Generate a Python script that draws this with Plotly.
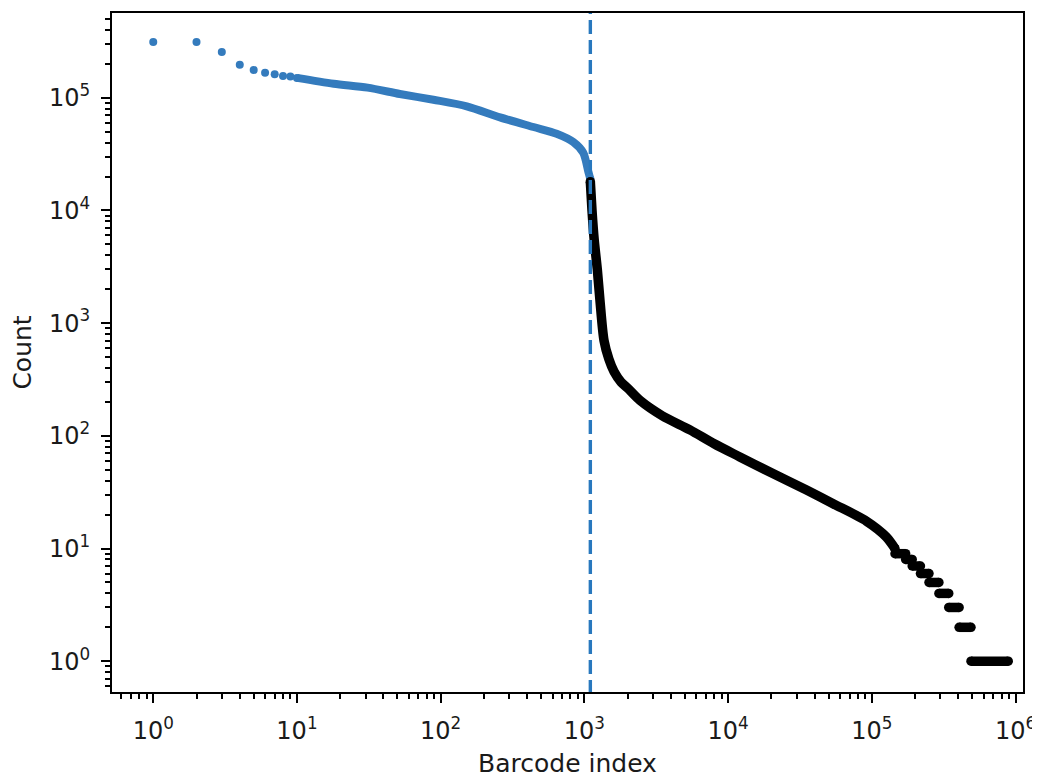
import plotly.graph_objects as go

# ---- data ----
blue_dot_rank = [1, 2, 3, 4, 5, 6, 7, 8, 9, 10]
blue_dot_count = [312000, 312000, 255000, 196000, 176000, 167000, 162000, 156000, 154000, 150000]

blue_rank = [10, 18, 31, 52, 89, 152, 259, 442, 641, 837, 982, 1066, 1100]
blue_count = [150000, 133000, 123000, 108000, 96000, 84000, 67000, 55000, 48000, 40500, 32500, 22000, 19000]

black_rank = [1100, 1130, 1170, 1230, 1283, 1370, 1480, 1610, 1800, 2000, 2450, 3500, 5425,
              8000, 12070, 20000, 35150, 53800, 91800, 126000, 145000]
black_count = [18000, 10000, 5500, 3000, 1600, 700, 480, 370, 300, 265, 205, 150, 113,
               85, 65, 47, 33, 25, 17.5, 12.7, 10]

step_count = [9, 8, 7, 6, 5, 4, 3, 2, 1]
step_start = [145000, 172000, 191000, 218000, 250000, 293000, 343000, 405000, 490000]
step_end = [172000, 191000, 218000, 250000, 293000, 343000, 405000, 490000, 890000]

threshold_rank = 1100

major_vals = [1, 10, 100, 1000, 10000, 100000, 1000000]
x_tick_text = ["10<sup>0</sup>", "10<sup>1</sup>", "10<sup>2</sup>", "10<sup>3</sup>",
               "10<sup>4</sup>", "10<sup>5</sup>", "10<sup>6</sup>"]
y_major_vals = [1, 10, 100, 1000, 10000, 100000]
y_tick_text = ["10<sup>0</sup>", "10<sup>1</sup>", "10<sup>2</sup>", "10<sup>3</sup>",
               "10<sup>4</sup>", "10<sup>5</sup>"]

BLUE = "rgb(52,123,189)"
BLACK = "#000000"

minor_vals = [m * 10.0 ** e for e in range(-1, 7) for m in range(2, 10)]

# build step segments (separated by gaps)
sx, sy = [], []
for c, a, b in zip(step_count, step_start, step_end):
    sx += [a, b, None]
    sy += [c, c, None]

fig = go.Figure()

fig.add_trace(go.Scatter(x=blue_rank, y=blue_count, mode="lines",
                         line=dict(color=BLUE, width=8, shape="spline", smoothing=0.8),
                         hoverinfo="skip", showlegend=False))
fig.add_trace(go.Scatter(x=blue_dot_rank + [blue_rank[-1]], y=blue_dot_count + [blue_count[-1]],
                         mode="markers",
                         marker=dict(color=BLUE, size=8, line=dict(width=0)),
                         showlegend=False))
fig.add_trace(go.Scatter(x=black_rank, y=black_count, mode="lines",
                         line=dict(color=BLACK, width=9.5, shape="spline", smoothing=0.8),
                         showlegend=False))
fig.add_trace(go.Scatter(x=[black_rank[0], black_rank[-1]], y=[black_count[0], black_count[-1]],
                         mode="markers",
                         marker=dict(color=BLACK, size=9.5, line=dict(width=0)), showlegend=False))
fig.add_trace(go.Scatter(x=sx, y=sy, mode="lines+markers", connectgaps=False,
                         line=dict(color=BLACK, width=9.5),
                         marker=dict(color=BLACK, size=9.5, line=dict(width=0)),
                         showlegend=False))
# threshold dashed line
fig.add_trace(go.Scatter(x=[threshold_rank, threshold_rank], y=[0.1, 1e7], mode="lines",
                         line=dict(color="rgb(40,120,190)", width=3.4, dash="14px,6px"),
                         showlegend=False))

axis_common = dict(
    type="log",
    automargin=False,
    showgrid=False,
    zeroline=False,
    showline=True,
    linecolor="black",
    linewidth=1.8,
    mirror=True,
    ticks="outside",
    ticklen=9,
    tickwidth=1.8,
    tickcolor="black",
    tickfont=dict(family="DejaVu Sans", size=24, color="#1a1a1a"),
    title_font=dict(family="DejaVu Sans", size=25, color="#1a1a1a"),
)

fig.update_layout(
    width=1032, height=771,
    margin=dict(l=104, r=16.7, t=5, b=87.3),
    paper_bgcolor="white", plot_bgcolor="white",
    showlegend=False,
)
fig.update_xaxes(**axis_common, range=[-0.287, 6.052],
                 tickmode="array", tickvals=major_vals, ticktext=x_tick_text,
                 ticklabelstandoff=7,
                 minor=dict(tickmode="array", tickvals=minor_vals, ticks="outside",
                            ticklen=5, tickwidth=1.5, tickcolor="black", showgrid=False),
                 title=dict(text="Barcode index", standoff=11))
fig.update_yaxes(**axis_common, range=[-0.273, 5.752],
                 tickmode="array", tickvals=y_major_vals, ticktext=y_tick_text,
                 ticklabelstandoff=6,
                 minor=dict(tickmode="array", tickvals=minor_vals, ticks="outside",
                            ticklen=5, tickwidth=1.5, tickcolor="black", showgrid=False),
                 title=dict(text="Count", standoff=12))

fig.write_html("out.html")
